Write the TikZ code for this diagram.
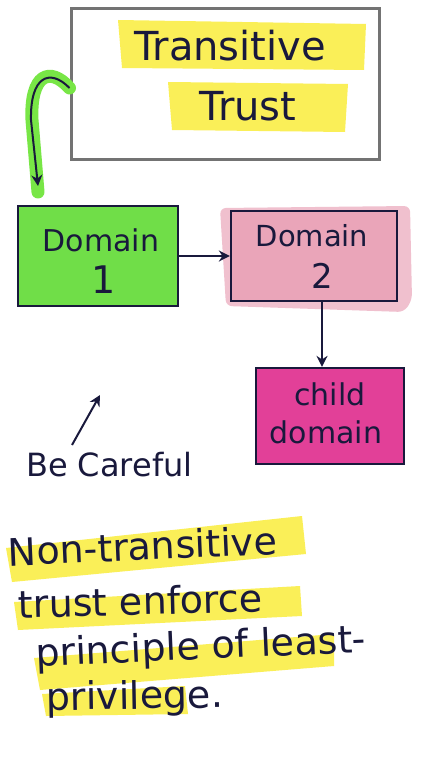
\documentclass[tikz,border=0pt]{standalone}
\usepackage{fontspec}
\setmainfont{DejaVu Sans}
\usetikzlibrary{arrows.meta}
\definecolor{ink}{RGB}{25,25,60}
\definecolor{pencil}{RGB}{115,115,115}
\definecolor{hlyellow}{RGB}{250,238,70}
\definecolor{dgreen}{RGB}{112,222,72}
\definecolor{dpink}{RGB}{234,165,185}
\definecolor{dmagenta}{RGB}{226,64,152}
\definecolor{hlgreen}{RGB}{120,230,70}
\tikzset{
  hand/.style={text=ink, inner sep=0pt},
  boxline/.style={draw=ink, line width=2.2pt},
  inkarrow/.style={draw=ink, line width=2pt, -{Stealth[length=11pt,width=11pt]}},
  marker/.style={fill=hlyellow, draw=none, opacity=0.9},
}
\begin{document}
\begin{tikzpicture}[x=1pt,y=-1pt]
\useasboundingbox (0,0) rectangle (420,765);
\fill[white] (0,0) rectangle (420,765);

% title box with highlighted words
\node[draw=pencil, line width=3pt, minimum width=308pt, minimum height=150pt] (tt) at (225,84) {};
\fill[marker] (118,20) -- (366,24) -- (364,70) -- (122,68) -- cycle;
\fill[marker] (168,82) -- (348,84) -- (345,132) -- (172,130) -- cycle;
\node[hand, font=\fontsize{40}{42}\selectfont] (t1) at (230,46) {Transitive};
\node[hand, font=\fontsize{40}{42}\selectfont] (t2) at (248,106) {Trust};

% trust connector from the title box down to Domain 1
\coordinate (gtip) at (38,186);
\draw[hlgreen, line width=13pt, line cap=round] (tt.west |- 0,88) .. controls (50,66) and (30,74) .. (32,120) -- (38,192);
\draw[inkarrow] (tt.west |- 0,88) .. controls (50,68) and (30,76) .. (31,120) -- (gtip);

% domains
\node[boxline, fill=dgreen, minimum width=160pt, minimum height=100pt] (d1) at (98,256) {};
\node[hand, font=\fontsize{30}{32}\selectfont] at (101,240) {Domain};
\node[hand, font=\fontsize{38}{40}\selectfont] at (104,280) {1};

\fill[dpink!70, rounded corners=6pt] (220,208) -- (410,206) -- (412,300) -- (404,312) -- (226,306) -- cycle;
\node[boxline, fill=dpink, minimum width=166pt, minimum height=90pt] (d2) at (314,256) {};
\node[hand, font=\fontsize{29}{31}\selectfont] at (312,236) {Domain};
\node[hand, font=\fontsize{34}{36}\selectfont] at (322,276) {2};

\node[boxline, fill=dmagenta, minimum width=148pt, minimum height=96pt] (cd) at (330,416) {};
\node[hand, font=\fontsize{30}{32}\selectfont] at (330,394) {child};
\node[hand, font=\fontsize{30}{32}\selectfont] at (326,432) {domain};

\draw[inkarrow] (d1.east) -- (d2.west);
\draw[inkarrow] ([xshift=8pt]d2.south) -- ([xshift=8pt]d2.south |- cd.north);

% caution note
\node[hand, font=\fontsize{32}{34}\selectfont, anchor=west] (bc) at (26,465) {Be Careful};
\coordinate (ctip) at (100,395);
\draw[inkarrow] (72,445) -- (ctip);

% closing remark, highlighted
\fill[marker] (6,548) -- (302,516) -- (306,554) -- (12,582) -- cycle;
\fill[marker] (14,602) -- (300,586) -- (302,616) -- (18,630) -- cycle;
\fill[marker] (34,658) -- (334,634) -- (334,666) -- (40,690) -- cycle;
\fill[marker] (42,694) -- (185,686) -- (188,714) -- (46,716) -- cycle;
\node[hand, font=\fontsize{38}{40}\selectfont, anchor=west, rotate=2.5] (p1) at (8,552) {Non-transitive};
\node[hand, font=\fontsize{38}{40}\selectfont, anchor=west, rotate=1.5] (p2) at (18,604) {trust enforce};
\node[hand, font=\fontsize{38}{40}\selectfont, anchor=west, rotate=2.5] (p3) at (36,656) {principle of least-};
\node[hand, font=\fontsize{38}{40}\selectfont, anchor=west, rotate=1] (p4) at (46,700) {privilege.};
\end{tikzpicture}
\end{document}
